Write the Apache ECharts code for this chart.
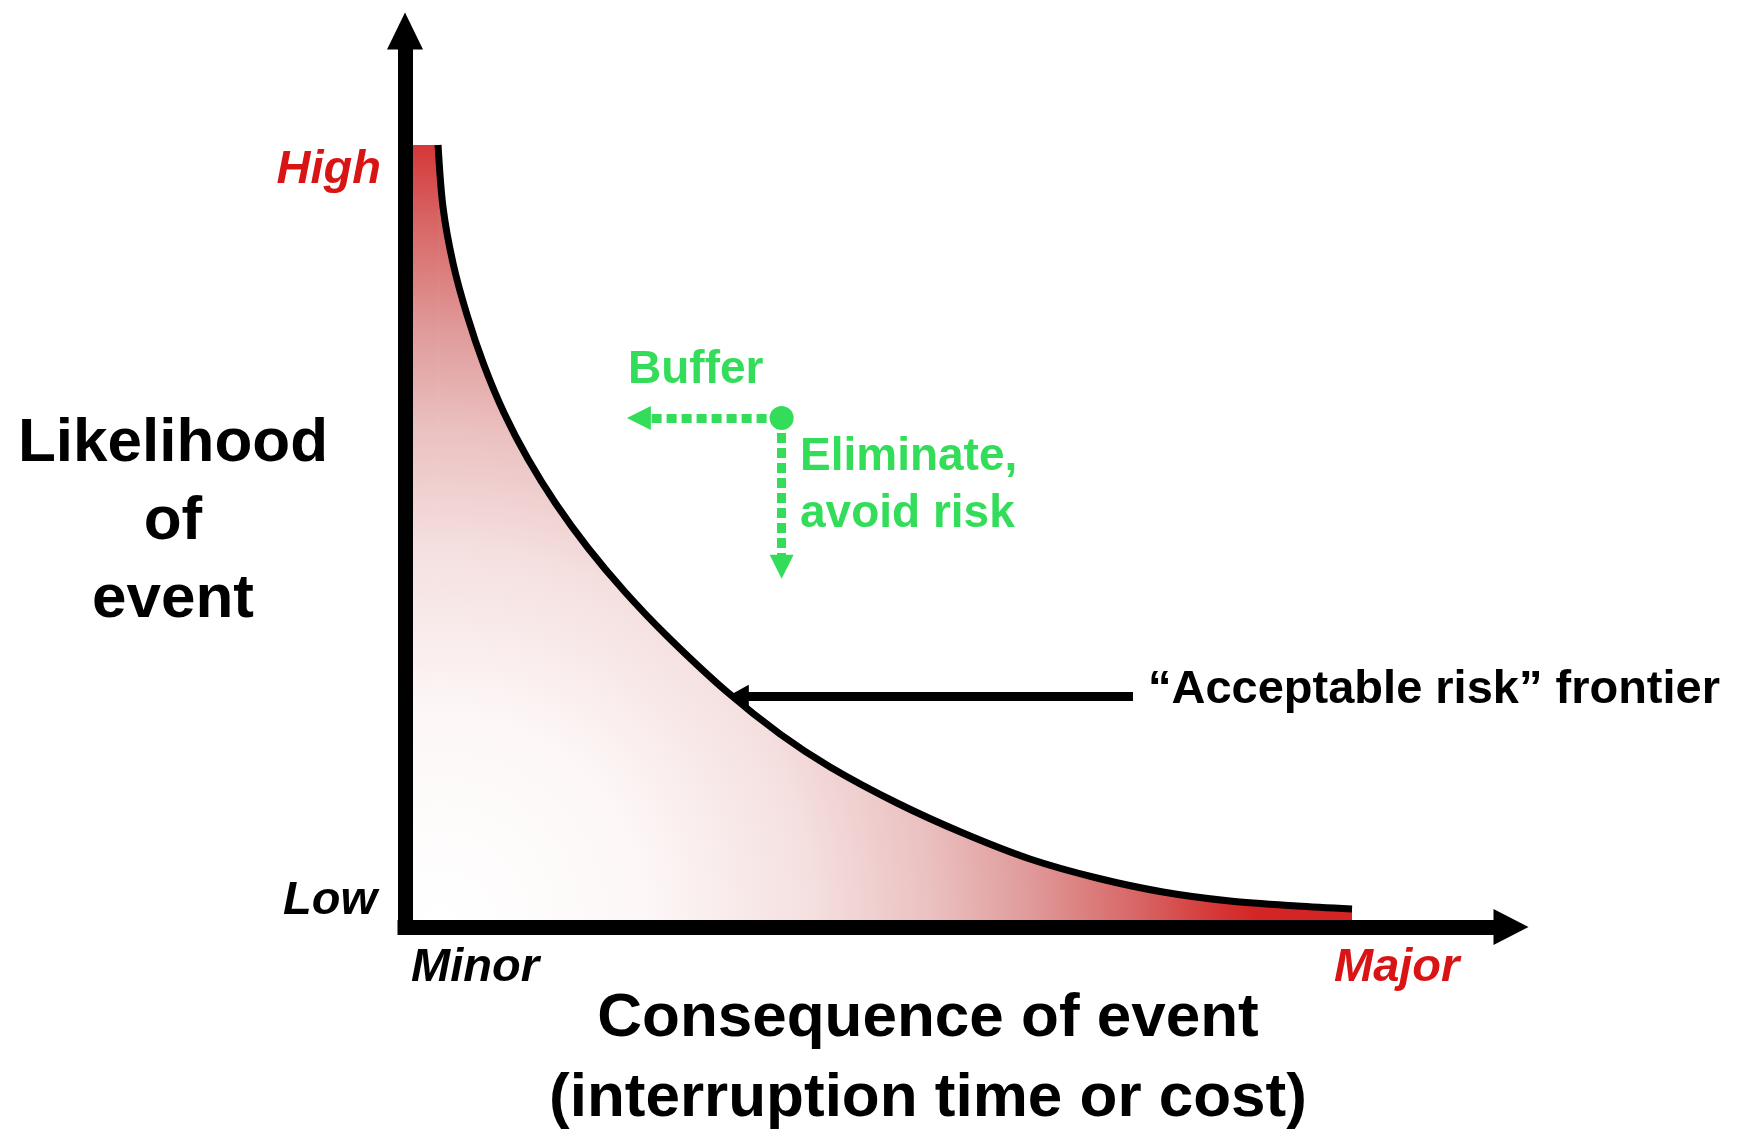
<!DOCTYPE html>
<html>
<head>
<meta charset="utf-8">
<title>Acceptable risk frontier</title>
<script src="https://cdn.jsdelivr.net/npm/echarts@6/dist/echarts.min.js"></script>
<style>
html, body { margin: 0; padding: 0; background: #fff; }
#echarts_main { width: 1741px; height: 1138px; }
</style>
</head>
<body>
<div id="echarts_main"></div>
<script type="text/javascript">
// frontier curve (axes 0..100)
var consequence = [3.01, 3.46, 4.37, 5.65, 7.19, 9.02, 11.2, 13.75, 16.67, 20.04, 23.86, 29.33, 34.15, 38.71, 44.81, 50.82, 56.92, 63.02, 69.03, 75.14, 81.24, 86.25];
var likelihood  = [87.28, 80.36, 74.11, 68.3, 62.72, 57.37, 52.23, 47.21, 42.3, 37.39, 32.48, 26.23, 21.54, 17.86, 13.84, 10.49, 7.59, 5.47, 3.91, 2.9, 2.34, 2.01];

// annotation anchors (data units)
var riskPoint    = [34.3, 56.8];
var bufferEnd    = [21.3, 56.8];
var eliminateEnd = [34.3, 40.2];
var frontierFrom = [66.3, 25.8];
var frontierTo   = [30.4, 25.8];

var RED = '#d91414', GREEN = '#33dd5a', FONT = '"Liberation Sans", Arial, sans-serif';

var curve = [];
for (var i = 0; i < consequence.length; i++) curve.push([consequence[i], likelihood[i]]);
// flat red shelf between the y axis and the start of the curve
var shelf = [[0, likelihood[0]], [consequence[0], likelihood[0]]];

// shared fill: white near the origin, red towards the top and the right
var fill = new echarts.graphic.RadialGradient(440, 920, 820, [
    {offset: 0, color: '#ffffff'},
    {offset: 0.25, color: '#fdf7f7'},
    {offset: 0.45, color: '#f5e0e0'},
    {offset: 0.6, color: '#ebc0c0'},
    {offset: 0.72, color: '#e09a9a'},
    {offset: 0.85, color: '#d86666'},
    {offset: 0.95, color: '#d53535'},
    {offset: 1, color: '#d42424'}
], true);

function txt(x, y, text, font, color, align, lh) {
    return {
        type: 'text', x: x, y: y, z: 50,
        style: {
            text: text, font: font, fill: color,
            align: align, textAlign: align,
            verticalAlign: 'middle', textVerticalAlign: 'middle',
            lineHeight: lh
        }
    };
}

var option = {
    animation: false,
    backgroundColor: '#fff',
    grid: {left: 405, right: 238, top: 31, bottom: 211, containLabel: false},
    xAxis: {
        type: 'value', min: 0, max: 100, z: 20,
        axisLine: {
            show: true, onZero: true,
            symbol: ['none', 'triangle'], symbolSize: [36, 35], symbolOffset: [0, 8],
            lineStyle: {color: '#000', width: 15, cap: 'square'}
        },
        axisTick: {show: false}, axisLabel: {show: false}, splitLine: {show: false}
    },
    yAxis: {
        type: 'value', min: 0, max: 100, z: 20,
        axisLine: {
            show: true,
            symbol: ['none', 'triangle'], symbolSize: [36, 37],
            lineStyle: {color: '#000', width: 15, cap: 'butt'}
        },
        axisTick: {show: false}, axisLabel: {show: false}, splitLine: {show: false}
    },
    series: [
        {
            name: 'shelf', type: 'line', data: shelf, z: 2,
            showSymbol: false, silent: true,
            lineStyle: {width: 0},
            areaStyle: {color: fill, opacity: 1}
        },
        {
            name: 'area', type: 'line', data: curve, z: 2, smooth: 0.3,
            showSymbol: false, silent: true,
            lineStyle: {width: 0},
            areaStyle: {color: fill, opacity: 1}
        },
        {
            name: 'frontier', type: 'line', data: curve, z: 3, smooth: 0.3,
            showSymbol: false, silent: true,
            lineStyle: {color: '#000', width: 7},
            markLine: {
                silent: true, z: 5,
                symbol: ['none', 'triangle'], symbolSize: [22, 20],
                label: {show: false},
                lineStyle: {color: '#000', width: 9, type: 'solid'},
                data: [[{coord: frontierFrom}, {coord: frontierTo}]]
            }
        },
        {
            name: 'actions', type: 'scatter', data: [riskPoint], z: 10,
            symbol: 'circle', symbolSize: 24, silent: true,
            itemStyle: {color: GREEN, opacity: 1},
            markLine: {
                silent: true, z: 5,
                symbol: ['none', 'triangle'], symbolSize: [24, 24],
                label: {show: false},
                lineStyle: {color: GREEN, width: 9, type: [10, 5], opacity: 1},
                data: [
                    [{coord: riskPoint}, {coord: bufferEnd}],
                    [{coord: riskPoint}, {coord: eliminateEnd}]
                ]
            }
        }
    ],
    graphic: [
        txt(381, 170, 'High', 'italic bold 47px ' + FONT, RED, 'right'),
        txt(377, 901, 'Low', 'italic bold 47px ' + FONT, '#000', 'right'),
        txt(411, 968, 'Minor', 'italic bold 47px ' + FONT, '#000', 'left'),
        txt(1334, 968, 'Major', 'italic bold 47px ' + FONT, RED, 'left'),
        txt(173, 522, 'Likelihood\nof\nevent', 'bold 62px ' + FONT, '#000', 'center', 78),
        txt(928, 1059, 'Consequence of event\n(interruption time or cost)', 'bold 62px ' + FONT, '#000', 'center', 80),
        txt(628, 370, 'Buffer', 'bold 46px ' + FONT, GREEN, 'left'),
        txt(800, 486, 'Eliminate,\navoid risk', 'bold 46px ' + FONT, GREEN, 'left', 57),
        txt(1148, 690, '\u201cAcceptable risk\u201d frontier', 'bold 47px ' + FONT, '#000', 'left')
    ]
};

var initEcharts = echarts.init(document.getElementById('echarts_main'));
initEcharts.setOption(option);
</script>
</body>
</html>
